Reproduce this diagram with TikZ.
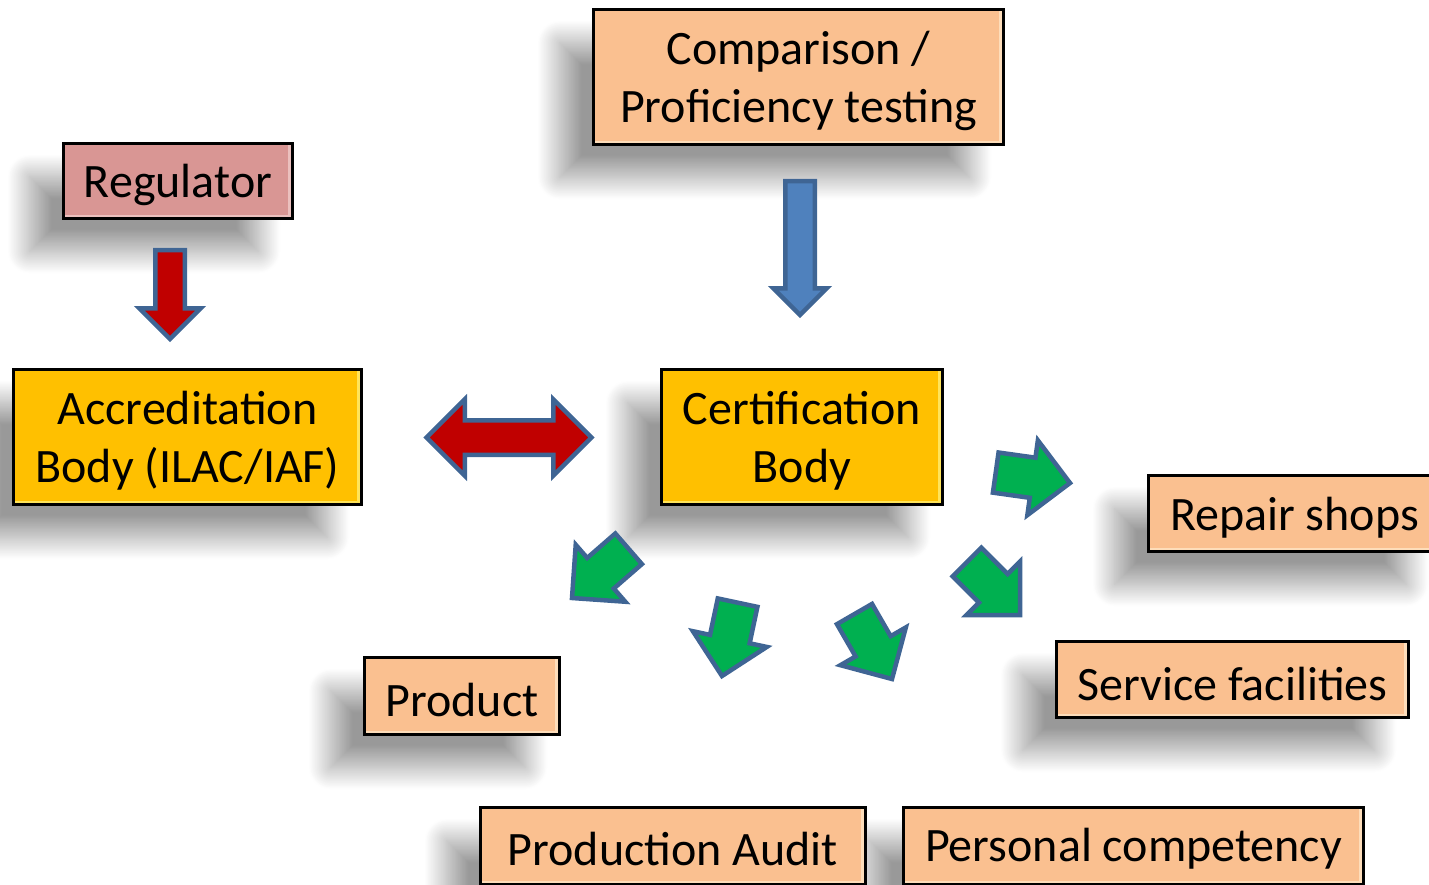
\documentclass[tikz,border=0pt]{standalone}
\usepackage{fontspec}
\setmainfont{Carlito}
\usetikzlibrary{shapes.arrows,shadows.blur}
\definecolor{peach}{HTML}{FAC090}
\definecolor{peachhi}{HTML}{FDDDBA}
\definecolor{pinkreg}{HTML}{D99694}
\definecolor{pinkhi}{HTML}{EBC0BE}
\definecolor{gold}{HTML}{FFC000}
\definecolor{goldhi}{HTML}{FFE45A}
\definecolor{arrowedge}{HTML}{3F6594}
\definecolor{ared}{HTML}{C00000}
\definecolor{ablue}{HTML}{4F81BD}
\definecolor{agreen}{HTML}{00B050}
\tikzset{
  boxbase/.style={draw=black, line width=3pt, inner sep=0pt,
    blur shadow={shadow xshift=-34pt, shadow yshift=-33pt, shadow blur radius=22pt,
      shadow blur steps=40, shadow opacity=40}},
  bevel/.style={path picture={
    \draw[line width=3pt, #1]
      ([xshift=-3pt]path picture bounding box.north east) --
      ([xshift=-3pt]path picture bounding box.south east);
    \draw[line width=2pt, #1]
      ([yshift=2.5pt]path picture bounding box.south west) --
      ([yshift=2.5pt]path picture bounding box.south east);}},
  peachbox/.style={boxbase, fill=peach, bevel=peachhi},
  goldbox/.style={boxbase, fill=gold, bevel=goldhi},
  regbox/.style={boxbase, fill=pinkreg, bevel=pinkhi},
  boxtext/.style={inner sep=0pt, align=center, font=\fontsize{48pt}{58pt}\selectfont},
  blockarrow/.style={draw=arrowedge, line width=4.5pt, line join=miter, inner xsep=0pt,
    outer sep=0pt, anchor=tip},
  greenarrow/.style={blockarrow, single arrow, fill=agreen, minimum height=75pt,
    inner ysep=18pt, single arrow head extend=17.5pt, single arrow tip angle=90},
}
\begin{document}
\begin{tikzpicture}[x=1pt,y=-1pt]
\useasboundingbox (0,0) rectangle (1429,884);
% boxes
\node[peachbox, minimum width=410pt, minimum height=135pt] (cmp) at (798.5,77) {};
\node[regbox, minimum width=229pt, minimum height=75pt] (reg) at (178,181) {};
\node[goldbox, minimum width=348pt, minimum height=135pt] (acc) at (187.5,437) {};
\node[goldbox, minimum width=281pt, minimum height=135pt] (cert) at (802,437) {};
\node[peachbox, minimum width=292pt, minimum height=76pt] (rep) at (1294.5,513.5) {};
\node[peachbox, minimum width=352pt, minimum height=76pt] (svc) at (1232.5,679.5) {};
\node[peachbox, minimum width=195pt, minimum height=77pt] (prod) at (462,696) {};
\node[peachbox, minimum width=460pt, minimum height=77pt] (pc) at (1133.5,846) {};
\node[peachbox, minimum width=385pt, minimum height=77pt] (pa) at (673,846) {};
% texts
\node[boxtext] (cmpt) at ([yshift=-4pt]cmp.center) {Comparison /\\Proficiency testing};
\node[boxtext] (regt) at ([yshift=-4pt]reg.center) {Regulator};
\node[boxtext] (acct) at ([yshift=-4pt]acc.center) {Accreditation\\Body (ILAC/IAF)};
\node[boxtext] (certt) at ([yshift=-4pt]cert.center) {Certification\\Body};
\node[boxtext] (rept) at ([yshift=-4pt]rep.center) {Repair shops};
\node[boxtext] (svct) at ([yshift=-4pt]svc.center) {Service facilities};
\node[boxtext] (prodt) at ([yshift=-4pt]prod.center) {Product};
\node[boxtext] (pct) at ([yshift=-3pt]pc.center) {Personal competency};
\node[boxtext] (pat) at ([yshift=-3pt]pa.center) {Production Audit};
% big arrows
\node[blockarrow, single arrow, fill=ared, rotate=-90, minimum height=89pt, inner ysep=12.5pt,
  single arrow head extend=16pt, single arrow tip angle=90] (regarr) at (170,339) {};
\node[blockarrow, single arrow, fill=ablue, rotate=-90, minimum height=134pt, inner ysep=12.5pt,
  single arrow head extend=12pt, single arrow tip angle=90] (cmparr) at (800,315) {};
\node[blockarrow, double arrow, fill=ared, anchor=center, minimum height=165pt, inner ysep=15pt,
  double arrow head extend=21pt, double arrow tip angle=90] (dbl) at (509,437.5) {};
% green arrows
\node[greenarrow, rotate=221] (g1) at (572,598) {};
\node[greenarrow, rotate=258] (g2) at (722,676) {};
\node[greenarrow, rotate=-60] (g3) at (892,679) {};
\node[greenarrow, rotate=-45] (g4) at (1020,615) {};
\node[greenarrow, rotate=-8] (g5) at (1070,483) {};
\end{tikzpicture}
\end{document}
